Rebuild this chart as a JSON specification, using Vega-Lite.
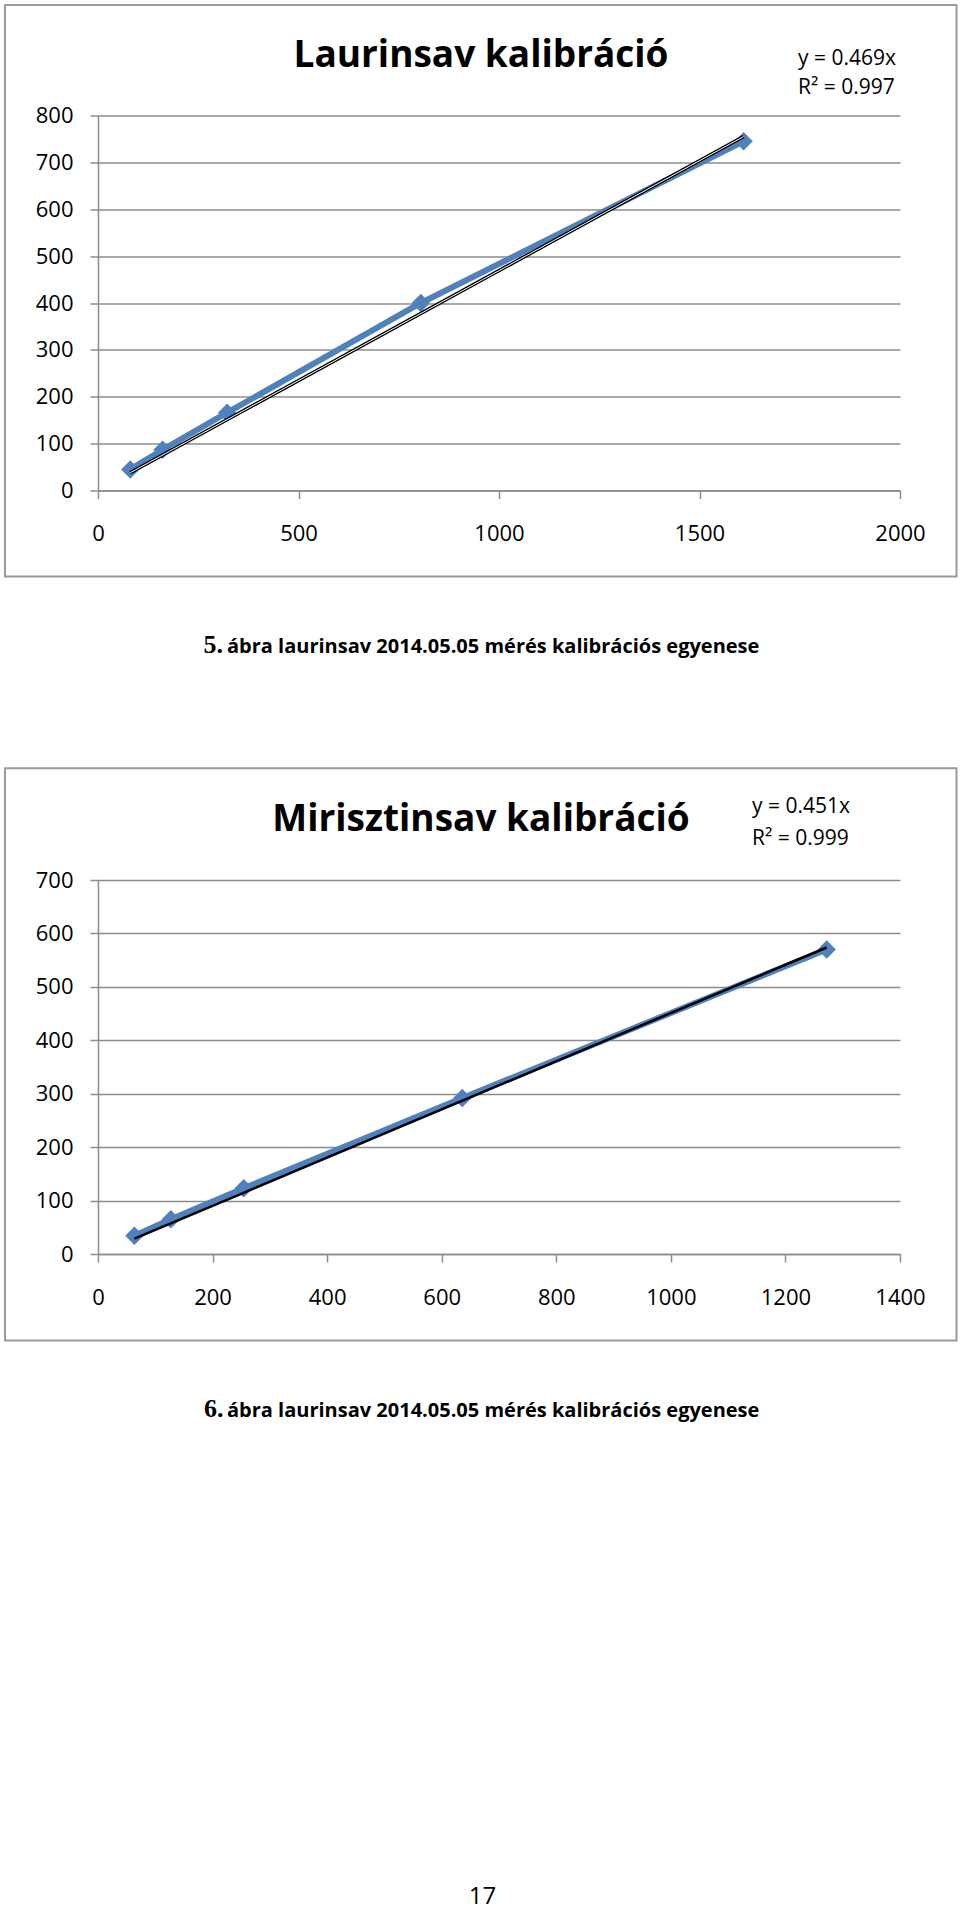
{
  "$schema": "https://vega.github.io/schema/vega-lite/v6.json",
  "padding": {"left": 4, "top": 3.5, "right": 0, "bottom": 0},
  "background": "white",
  "spacing": 389.5,
  "bounds": "flush",
  "config": {
    "view": {"stroke": null},
    "font": "Open Sans",
    "axis": {
      "labelFont": "Open Sans",
      "labelFontSize": 22,
      "labelColor": "#000000",
      "gridColor": "#8c8c8c",
      "gridWidth": 1.5,
      "gridOpacity": 1,
      "domainColor": "#8c8c8c",
      "domainWidth": 1.5,
      "tickColor": "#8c8c8c",
      "tickWidth": 1.5,
      "tickSize": 8,
      "title": null,
      "format": "d"
    },
    "axisX": {"grid": false, "labelPadding": 25, "labelFlush": false},
    "axisY": {"grid": true, "labelPadding": 17}
  },
  "datasets": {
    "one": [{}],
    "laurin": [
      {"x": 80.5, "y": 45},
      {"x": 161, "y": 87},
      {"x": 322, "y": 166},
      {"x": 805, "y": 400},
      {"x": 1610, "y": 745}
    ],
    "laurinTrend": [
      {"x": 80.5, "y": 37.8},
      {"x": 1610, "y": 755.1}
    ],
    "miriszt": [
      {"x": 63.6, "y": 34},
      {"x": 127.2, "y": 65},
      {"x": 254.4, "y": 123},
      {"x": 636, "y": 292},
      {"x": 1272, "y": 570}
    ],
    "mirisztTrend": [
      {"x": 63.6, "y": 28.7},
      {"x": 1272, "y": 573.7}
    ]
  },
  "vconcat": [
    {
      "width": 802,
      "height": 375,
      "layer": [
        {
          "data": {"name": "laurin"},
          "mark": {"type": "line", "color": "#4F81BD", "strokeWidth": 6, "point": {"shape": "diamond", "size": 340, "filled": true, "color": "#4F81BD", "opacity": 1}},
          "encoding": {
            "x": {"field": "x", "type": "quantitative", "scale": {"domain": [0, 2000], "nice": false}, "axis": {"values": [0, 500, 1000, 1500, 2000]}},
            "y": {"field": "y", "type": "quantitative", "scale": {"domain": [0, 800], "nice": false}, "axis": {"values": [0, 100, 200, 300, 400, 500, 600, 700, 800]}}
          }
        },
        {
          "data": {"name": "laurinTrend"},
          "mark": {"type": "line", "color": "#000000", "strokeWidth": 3.5},
          "encoding": {
            "x": {"field": "x", "type": "quantitative"},
            "y": {"field": "y", "type": "quantitative"}
          }
        },
        {
          "data": {"name": "laurinTrend"},
          "mark": {"type": "line", "color": "#ffffff", "strokeWidth": 1},
          "encoding": {
            "x": {"field": "x", "type": "quantitative"},
            "y": {"field": "y", "type": "quantitative"}
          }
        },
        {
          "data": {"name": "one"},
          "mark": {"type": "rect", "fill": "transparent", "stroke": "#9a9a9a", "strokeWidth": 2},
          "encoding": {
            "x": {"datum": -231.9, "type": "quantitative"},
            "x2": {"datum": 2140.9},
            "y": {"datum": -183.5, "type": "quantitative"},
            "y2": {"datum": 1035.7}
          }
        },
        {
          "data": {"name": "one"},
          "mark": {"type": "text", "font": "Open Sans", "fontWeight": "bold", "fontSize": 37, "align": "center", "baseline": "alphabetic", "color": "#000000"},
          "encoding": {
            "x": {"datum": 955.1, "type": "quantitative"},
            "y": {"datum": 903.0, "type": "quantitative"},
            "text": {"value": "Laurinsav kalibráció"}
          }
        },
        {
          "data": {"name": "one"},
          "mark": {"type": "text", "font": "Open Sans", "fontSize": 21, "align": "left", "baseline": "alphabetic", "lineHeight": 29, "color": "#000000"},
          "encoding": {
            "x": {"datum": 1745.6, "type": "quantitative"},
            "y": {"datum": 906.7, "type": "quantitative"},
            "text": {"value": ["y = 0.469x", "R² = 0.997"]}
          }
        },
        {
          "data": {"name": "one"},
          "mark": {"type": "text", "font": "Liberation Serif", "fontWeight": "bold", "fontSize": 26, "align": "left", "baseline": "alphabetic", "color": "#000000"},
          "encoding": {
            "x": {"datum": 263.3, "type": "quantitative"},
            "y": {"datum": -347.7, "type": "quantitative"},
            "text": {"value": "5."}
          }
        },
        {
          "data": {"name": "one"},
          "mark": {"type": "text", "font": "Open Sans", "fontWeight": "bold", "fontSize": 20, "align": "left", "baseline": "alphabetic", "color": "#000000"},
          "encoding": {
            "x": {"datum": 321.7, "type": "quantitative"},
            "y": {"datum": -347.7, "type": "quantitative"},
            "text": {"value": "ábra laurinsav 2014.05.05 mérés kalibrációs egyenese"}
          }
        }
      ]
    },
    {
      "width": 802,
      "height": 374,
      "layer": [
        {
          "data": {"name": "miriszt"},
          "mark": {"type": "line", "color": "#4F81BD", "strokeWidth": 6, "point": {"shape": "diamond", "size": 340, "filled": true, "color": "#4F81BD", "opacity": 1}},
          "encoding": {
            "x": {"field": "x", "type": "quantitative", "scale": {"domain": [0, 1400], "nice": false}, "axis": {"values": [0, 200, 400, 600, 800, 1000, 1200, 1400]}},
            "y": {"field": "y", "type": "quantitative", "scale": {"domain": [0, 700], "nice": false}, "axis": {"values": [0, 100, 200, 300, 400, 500, 600, 700]}}
          }
        },
        {
          "data": {"name": "mirisztTrend"},
          "mark": {"type": "line", "color": "#000000", "strokeWidth": 2.5},
          "encoding": {
            "x": {"field": "x", "type": "quantitative"},
            "y": {"field": "y", "type": "quantitative"}
          }
        },
        {
          "data": {"name": "one"},
          "mark": {"type": "rect", "fill": "transparent", "stroke": "#9a9a9a", "strokeWidth": 2},
          "encoding": {
            "x": {"datum": -162.3, "type": "quantitative"},
            "x2": {"datum": 1498.6},
            "y": {"datum": -161.7, "type": "quantitative"},
            "y2": {"datum": 909.1}
          }
        },
        {
          "data": {"name": "one"},
          "mark": {"type": "text", "font": "Open Sans", "fontWeight": "bold", "fontSize": 37, "align": "center", "baseline": "alphabetic", "color": "#000000"},
          "encoding": {
            "x": {"datum": 668.6, "type": "quantitative"},
            "y": {"datum": 791.0, "type": "quantitative"},
            "text": {"value": "Mirisztinsav kalibráció"}
          }
        },
        {
          "data": {"name": "one"},
          "mark": {"type": "text", "font": "Open Sans", "fontSize": 21, "align": "left", "baseline": "alphabetic", "lineHeight": 32, "color": "#000000"},
          "encoding": {
            "x": {"datum": 1141.6, "type": "quantitative"},
            "y": {"datum": 825.6, "type": "quantitative"},
            "text": {"value": ["y = 0.451x", "R² = 0.999"]}
          }
        },
        {
          "data": {"name": "one"},
          "mark": {"type": "text", "font": "Liberation Serif", "fontWeight": "bold", "fontSize": 26, "align": "left", "baseline": "alphabetic", "color": "#000000"},
          "encoding": {
            "x": {"datum": 185, "type": "quantitative"},
            "y": {"datum": -305.8, "type": "quantitative"},
            "text": {"value": "6."}
          }
        },
        {
          "data": {"name": "one"},
          "mark": {"type": "text", "font": "Open Sans", "fontWeight": "bold", "fontSize": 20, "align": "left", "baseline": "alphabetic", "color": "#000000"},
          "encoding": {
            "x": {"datum": 225.2, "type": "quantitative"},
            "y": {"datum": -305.8, "type": "quantitative"},
            "text": {"value": "ábra laurinsav 2014.05.05 mérés kalibrációs egyenese"}
          }
        },
        {
          "data": {"name": "one"},
          "mark": {"type": "text", "font": "Open Sans", "fontSize": 24, "align": "center", "baseline": "alphabetic", "color": "#000000"},
          "encoding": {
            "x": {"datum": 671.2, "type": "quantitative"},
            "y": {"datum": -1217.5, "type": "quantitative"},
            "text": {"value": "17"}
          }
        }
      ]
    }
  ]
}
